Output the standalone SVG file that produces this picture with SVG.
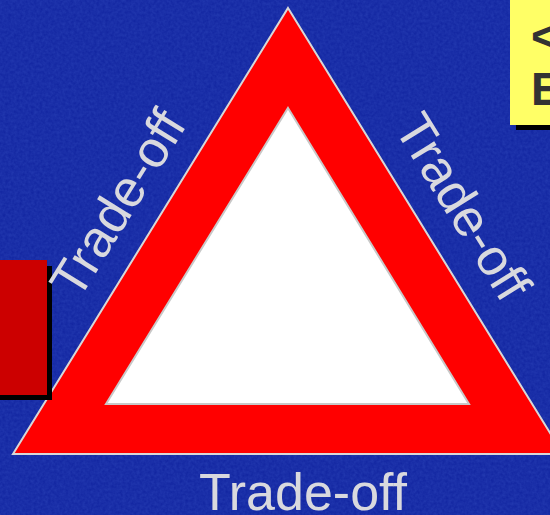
<svg xmlns="http://www.w3.org/2000/svg" width="550" height="515" viewBox="0 0 550 515">
  <defs>
    <filter id="tex" x="0" y="0" width="100%" height="100%">
      <feTurbulence type="fractalNoise" baseFrequency="0.35" numOctaves="2" seed="3" result="n"/>
      <feColorMatrix in="n" type="matrix" values="0 0 0 0 0.08  0 0 0 0 0.16  0 0 0 0 0.7  0 0 0 0.3 0"/>
    </filter>
  </defs>
  <style>
    .lbl { font-family: "Liberation Sans", Arial, sans-serif; font-size: 52px; fill: #d9d9de; }
    .note { font-family: "Liberation Sans", Arial, sans-serif; font-size: 46px; font-weight: bold; fill: #333333; }
    .shadow { fill: #000000; }
  </style>
  <rect id="background" x="0" y="0" width="550" height="515" fill="#10239f"/>
  <rect x="0" y="0" width="550" height="515" filter="url(#tex)"/>

  <g id="triangle">
    <polygon points="288,8 563,454 13,454" fill="#ff0000" stroke="#d8d8d8" stroke-width="2"/>
    <polygon points="288,108 469,404 106,404" fill="#ffffff" stroke="#c8c8c8" stroke-width="2"/>
  </g>

  <g id="left-box">
    <rect class="shadow" x="-5" y="266" width="57" height="134"/>
    <rect x="-5" y="260" width="52" height="135" fill="#cc0000"/>
  </g>

  <g id="note-box">
    <rect class="shadow" x="516" y="-5" width="40" height="135"/>
    <rect x="510" y="-5" width="45" height="130" fill="#ffff66"/>
    <text class="note" x="531" y="52">&lt;</text>
    <text class="note" x="531" y="105">E</text>
  </g>

  <g id="labels">
    <text class="lbl" x="133" y="213" text-anchor="middle" transform="rotate(-58.3 133 213)">Trade-off</text>
    <text class="lbl" x="448" y="216" text-anchor="middle" transform="rotate(58.3 448 216)">Trade-off</text>
    <text class="lbl" x="303" y="510" text-anchor="middle">Trade-off</text>
  </g>
</svg>
